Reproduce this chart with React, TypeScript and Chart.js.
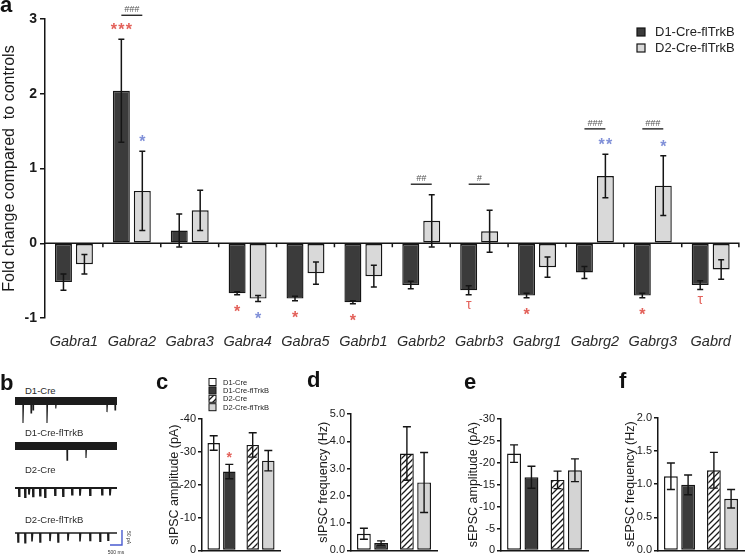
import React, { useEffect, useRef } from 'react';
import { Chart, registerables } from 'chart.js';

Chart.register(...registerables);

const FONT = '"Liberation Sans", Arial, Helvetica, sans-serif';
Chart.defaults.font.family = FONT;

// ---------- Panel a data ----------
const genes = ['Gabra1', 'Gabra2', 'Gabra3', 'Gabra4', 'Gabra5', 'Gabrb1', 'Gabrb2', 'Gabrb3', 'Gabrg1', 'Gabrg2', 'Gabrg3', 'Gabrd'];
const d1Fold = [-0.52, 2.04, 0.17, -0.67, -0.74, -0.79, -0.56, -0.63, -0.70, -0.39, -0.70, -0.56];
const d1FoldErr = [0.11, 0.69, 0.22, 0.02, 0.03, 0.02, 0.05, 0.06, 0.03, 0.08, 0.03, 0.06];
const d2Fold = [-0.28, 0.70, 0.44, -0.74, -0.40, -0.44, 0.30, 0.16, -0.32, 0.90, 0.77, -0.35];
const d2FoldErr = [0.13, 0.53, 0.27, 0.04, 0.15, 0.145, 0.35, 0.28, 0.135, 0.29, 0.40, 0.13];
const d1Sig = ['', '***', '', '*', '*', '*', '', 'τ', '*', '', '*', 'τ'];
const d2Sig = ['', '*', '', '*', '', '', '', '', '', '**', '*', ''];
const pairSig = ['', '###', '', '', '', '', '##', '#', '', '###', '###', ''];
const pairSigLevel = [0, 3.05, 0, 0, 0, 0, 0.79, 0.79, 0, 1.53, 1.53, 0];
const foldMin = -1;
const foldMax = 3;

// ---------- Panels c-f data ----------
const groupLabels = ['D1', 'D2'];
const seriesNames = ['D1-Cre', 'D1-Cre-flTrkB', 'D2-Cre', 'D2-Cre-flTrkB'];
const ipscAmp = [-32.7, -24.0, -32.1, -27.3];
const ipscAmpErr = [2.2, 2.2, 3.7, 3.1];
const ipscAmpSig = ['', '*', '', ''];
const ipscFreq = [0.61, 0.27, 3.55, 2.49];
const ipscFreqErr = [0.2, 0.08, 0.98, 1.1];
const epscAmp = [-22.1, -16.7, -16.1, -18.3];
const epscAmpErr = [2.0, 2.5, 2.0, 2.6];
const epscFreq = [1.12, 0.99, 1.21, 0.78];
const epscFreqErr = [0.2, 0.15, 0.27, 0.14];
const noSig = ['', '', '', ''];

// ---------- Panel b traces (ms, pA) ----------
const traceNames = ['D1-Cre', 'D1-Cre-flTrkB', 'D2-Cre', 'D2-Cre-flTrkB'];
const traceSpikeTimes = [
  [333, 667, 750, 1333, 1700, 3833, 4167],
  [2167, 2958],
  [167, 417, 583, 750, 1042, 1250, 1667, 2000, 2375, 2708, 3125, 3625, 3958],
  [125, 417, 708, 1042, 1458, 1792, 2208, 2708, 3125, 3542, 3875],
];
const traceSpikeAmps = [
  [73, 40, 30, 73, 25, 37, 30],
  [47, 40],
  [27, 30, 22, 28, 25, 30, 24, 27, 22, 26, 24, 22, 25],
  [30, 32, 28, 30, 27, 30, 26, 28, 25, 27, 24],
];
const traceDuration = 4250;
const scaleBarPA = 50;
const scaleBarMs = 500;

// ---------- styles ----------
const DARK = '#3b3b3b';
const LIGHT = '#d9d9d9';
const RED = '#e3615a';
const BLUE = '#8090d8';
const INK = '#151515';

// ---------- plugins ----------
const errorBarPlugin = {
  id: 'errorBars',
  afterDatasetsDraw(chart: any, _a: any, opts: any) {
    const ctx = chart.ctx;
    const ys = chart.scales.y;
    ctx.save();
    ctx.strokeStyle = INK;
    ctx.lineWidth = opts.lineWidth || 1.5;
    chart.data.datasets.forEach((ds: any, di: number) => {
      if (!ds.errors) return;
      const meta = chart.getDatasetMeta(di);
      meta.data.forEach((bar: any, i: number) => {
        const v = ds.data[i];
        if (v == null) return;
        const e = ds.errors[i] || 0;
        const y1 = ys.getPixelForValue(v - e);
        const y2 = ys.getPixelForValue(v + e);
        const hw = (opts.cap || 6) / 2;
        ctx.beginPath();
        ctx.moveTo(bar.x, y1);
        ctx.lineTo(bar.x, y2);
        ctx.moveTo(bar.x - hw, y1);
        ctx.lineTo(bar.x + hw, y1);
        ctx.moveTo(bar.x - hw, y2);
        ctx.lineTo(bar.x + hw, y2);
        ctx.stroke();
      });
    });
    ctx.restore();
  },
};

const sigPlugin = {
  id: 'sigMarks',
  afterDatasetsDraw(chart: any, _a: any, opts: any) {
    const ctx = chart.ctx;
    const ys = chart.scales.y;
    const zero = ys.getPixelForValue(0);
    ctx.save();
    ctx.textAlign = 'center';
    ctx.textBaseline = 'alphabetic';
    chart.data.datasets.forEach((ds: any, di: number) => {
      if (!ds.sig) return;
      const meta = chart.getDatasetMeta(di);
      meta.data.forEach((bar: any, i: number) => {
        const s = ds.sig[i];
        const v = ds.data[i];
        if (!s || v == null) return;
        const e = ds.errors ? ds.errors[i] : 0;
        const end = ys.getPixelForValue(v >= 0 ? v + e : v - e);
        const up = end < zero;
        ctx.fillStyle = ds.sigColor || RED;
        if (s === 'τ') {
          const size = opts.tauSize;
          const cy = up ? end - opts.tauGap : end + opts.tauGap;
          ctx.font = `${size}px ${FONT}`;
          ctx.fillText(s, bar.x, cy + 0.26 * size);
        } else {
          const size = opts.starSize;
          const cy = up ? end - opts.starGap : end + opts.starGap;
          ctx.font = `bold ${size}px ${FONT}`;
          const chars = s.split('');
          const x0 = bar.x - ((chars.length - 1) * opts.step) / 2;
          chars.forEach((c: string, k: number) => ctx.fillText(c, x0 + k * opts.step, cy + 0.57 * size));
        }
      });
    });
    ctx.restore();
  },
};

const pairPlugin = {
  id: 'pairSig',
  afterDatasetsDraw(chart: any) {
    const ctx = chart.ctx;
    const ys = chart.scales.y;
    const m0 = chart.getDatasetMeta(0);
    const m1 = chart.getDatasetMeta(1);
    ctx.save();
    ctx.strokeStyle = INK;
    ctx.lineWidth = 1.3;
    ctx.fillStyle = '#555';
    ctx.font = `italic 9px ${FONT}`;
    ctx.textAlign = 'center';
    ctx.textBaseline = 'alphabetic';
    pairSig.forEach((lab, i) => {
      if (!lab) return;
      const y = ys.getPixelForValue(pairSigLevel[i]);
      const xa = m0.data[i].x;
      const xb = m1.data[i].x;
      ctx.beginPath();
      ctx.moveTo(xa, y);
      ctx.lineTo(xb, y);
      ctx.stroke();
      ctx.fillText(lab, (xa + xb) / 2, y - 3);
    });
    ctx.restore();
  },
};

const zeroAxisPlugin = {
  id: 'zeroAxis',
  afterDatasetsDraw(chart: any, _a: any, opts: any) {
    const ctx = chart.ctx;
    const xs = chart.scales.x;
    const ys = chart.scales.y;
    const y0 = ys.getPixelForValue(0);
    const { left, right } = chart.chartArea;
    const n = chart.data.labels.length;
    ctx.save();
    ctx.strokeStyle = INK;
    ctx.lineWidth = 1.5;
    ctx.beginPath();
    ctx.moveTo(left, y0);
    ctx.lineTo(right, y0);
    for (let i = 1; i <= n; i++) {
      const bx = i < n ? (xs.getPixelForValue(i - 1) + xs.getPixelForValue(i)) / 2 : right - 0.75;
      ctx.moveTo(bx, y0);
      ctx.lineTo(bx, y0 + opts.tick);
    }
    ctx.stroke();
    ctx.restore();
  },
};

const boxLegendPlugin = {
  id: 'boxLegend',
  afterDraw(chart: any, _a: any, opts: any) {
    const ctx = chart.ctx;
    ctx.save();
    chart.data.datasets.forEach((ds: any, i: number) => {
      const cy = opts.y + i * opts.rowH;
      const b = opts.box;
      ctx.fillStyle = ds.backgroundColor;
      ctx.fillRect(opts.x, cy - b / 2, b, b);
      ctx.strokeStyle = INK;
      ctx.lineWidth = opts.lineWidth;
      ctx.strokeRect(opts.x, cy - b / 2, b, b);
      ctx.fillStyle = '#222';
      ctx.font = `${opts.size}px ${FONT}`;
      ctx.textAlign = 'left';
      ctx.textBaseline = 'middle';
      ctx.fillText(ds.label, opts.x + b + opts.gap, cy + 0.5);
    });
    ctx.restore();
  },
};

const scaleBarPlugin = {
  id: 'scaleBarText',
  afterDraw(chart: any, _a: any, opts: any) {
    if (!opts.show) return;
    const ctx = chart.ctx;
    const xs = chart.scales.x;
    const ys = chart.scales.y;
    const xv = xs.getPixelForValue(opts.t);
    const yb = ys.getPixelForValue(opts.base);
    const yt = ys.getPixelForValue(opts.base + scaleBarPA);
    ctx.save();
    ctx.fillStyle = '#333';
    ctx.font = `5px ${FONT}`;
    ctx.textAlign = 'center';
    ctx.textBaseline = 'middle';
    ctx.fillText(`${scaleBarMs} ms`, xs.getPixelForValue(opts.t - scaleBarMs / 2), yb + 8);
    ctx.translate(xv + 6, (yb + yt) / 2);
    ctx.rotate(Math.PI / 2);
    ctx.fillText(`${scaleBarPA} pA`, 0, 0);
    ctx.restore();
  },
};

function makeHatch(): CanvasPattern | string {
  const c = document.createElement('canvas');
  c.width = 6;
  c.height = 6;
  const g = c.getContext('2d');
  if (!g) return '#fff';
  g.fillStyle = '#ffffff';
  g.fillRect(0, 0, 6, 6);
  g.strokeStyle = '#1a1a1a';
  g.lineWidth = 1.3;
  g.beginPath();
  g.moveTo(-1, 7);
  g.lineTo(7, -1);
  g.moveTo(-1, 1);
  g.lineTo(1, -1);
  g.moveTo(5, 7);
  g.lineTo(7, 5);
  g.stroke();
  return g.createPattern(c, 'repeat') || '#fff';
}

// ---------- chart builders ----------
function buildFold(canvas: HTMLCanvasElement) {
  return new Chart(canvas, {
    type: 'bar',
    data: {
      labels: genes,
      datasets: [
        { label: 'D1-Cre-flTrkB', data: d1Fold, errors: d1FoldErr, sig: d1Sig, sigColor: RED, backgroundColor: DARK, borderColor: INK, borderWidth: 1.4, borderSkipped: false, categoryPercentage: 0.724, barPercentage: 0.81 } as any,
        { label: 'D2-Cre-flTrkB', data: d2Fold, errors: d2FoldErr, sig: d2Sig, sigColor: BLUE, backgroundColor: LIGHT, borderColor: INK, borderWidth: 1.4, borderSkipped: false, categoryPercentage: 0.724, barPercentage: 0.81 } as any,
      ],
    },
    options: {
      responsive: false,
      animation: false,
      layout: { padding: { top: 19, right: 4, left: 0, bottom: 0 } },
      scales: {
        x: {
          grid: { display: false, drawTicks: false },
          border: { display: false },
          ticks: { font: { family: FONT, size: 14.5, style: 'italic' }, color: '#2a2a2a', padding: 15, maxRotation: 0, autoSkip: false },
          afterFit: (s: any) => { s.height = 42; },
        },
        y: {
          min: foldMin,
          max: foldMax,
          ticks: { stepSize: 1, font: { family: FONT, size: 14, weight: 'bold' }, color: '#1a1a1a', padding: 3 },
          grid: { drawOnChartArea: false, tickLength: 5, color: INK, lineWidth: 1.5 },
          border: { color: INK, width: 1.5 },
          title: { display: true, text: 'Fold change compared  to controls', font: { family: FONT, size: 16 }, color: '#1a1a1a', padding: { top: 0, bottom: 0 } },
          afterFit: (s: any) => { s.width = 45; },
        },
      },
      plugins: {
        legend: { display: false },
        tooltip: { enabled: false },
        errorBars: { cap: 6, lineWidth: 1.5 },
        sigMarks: { starSize: 16, starGap: 13, tauSize: 14, tauGap: 11, step: 7.5 },
        zeroAxis: { tick: 4 },
        boxLegend: { x: 637, y: 32, rowH: 16, box: 8, gap: 10, size: 13, lineWidth: 1.2 },
      } as any,
    },
    plugins: [zeroAxisPlugin, errorBarPlugin, sigPlugin, pairPlugin, boxLegendPlugin],
  } as any);
}

type SmallCfg = {
  values: number[];
  errors: number[];
  sig: string[];
  min: number;
  max: number;
  step: number;
  reverse: boolean;
  decimals: number;
  title: string;
  padTop: number;
  padRight: number;
  legend: boolean;
};

function buildSmall(canvas: HTMLCanvasElement, cfg: SmallCfg) {
  const hatch = makeHatch();
  const fills: any[] = ['#ffffff', DARK, hatch, '#d4d4d4'];
  const datasets = seriesNames.map((name, k) => {
    const first = k < 2;
    return {
      label: name,
      data: first ? [cfg.values[k], null] : [null, cfg.values[k]],
      errors: first ? [cfg.errors[k], 0] : [0, cfg.errors[k]],
      sig: first ? [cfg.sig[k], ''] : ['', cfg.sig[k]],
      sigColor: RED,
      backgroundColor: fills[k],
      borderColor: INK,
      borderWidth: 1.4,
      borderSkipped: false,
      skipNull: true,
      categoryPercentage: 0.8,
      barPercentage: 0.8,
    } as any;
  });
  return new Chart(canvas, {
    type: 'bar',
    data: { labels: groupLabels, datasets },
    options: {
      responsive: false,
      animation: false,
      layout: { padding: { top: cfg.padTop, right: cfg.padRight, left: 0, bottom: 0 } },
      scales: {
        x: {
          ticks: { display: false },
          grid: { display: false, drawTicks: false },
          border: { color: INK, width: 1.5 },
          afterFit: (s: any) => { s.height = 6; },
        },
        y: {
          min: cfg.min,
          max: cfg.max,
          reverse: cfg.reverse,
          ticks: {
            stepSize: cfg.step,
            font: { family: FONT, size: 11 },
            color: '#1a1a1a',
            padding: 2,
            callback: (v: any) => (cfg.decimals ? Number(v).toFixed(cfg.decimals) : String(v)),
          },
          grid: { drawOnChartArea: false, tickLength: 4, color: INK, lineWidth: 1.5 },
          border: { color: INK, width: 1.5 },
          title: { display: true, text: cfg.title, font: { family: FONT, size: 12.5 }, color: '#1a1a1a', padding: { top: 0, bottom: 0 } },
          afterFit: (s: any) => { s.width = 35; },
        },
      },
      plugins: {
        legend: { display: false },
        tooltip: { enabled: false },
        errorBars: { cap: 8, lineWidth: 1.4 },
        sigMarks: { starSize: 14, starGap: 10, tauSize: 11, tauGap: 9, step: 7 },
        boxLegend: cfg.legend ? { x: 42, y: 12, rowH: 8.4, box: 7, gap: 7, size: 7.5, lineWidth: 1 } : { x: -100, y: -100, rowH: 0, box: 0, gap: 0, size: 1, lineWidth: 0 },
      } as any,
    },
    plugins: cfg.legend ? [errorBarPlugin, sigPlugin, boxLegendPlugin] : [errorBarPlugin, sigPlugin],
  } as any);
}

const traceBand = [8, 8, 0, 0];
const traceLineWidth = [1.1, 1.1, 1.8, 1.6];
const scaleBarT = 4458;
const scaleBarBase = -40;

function buildTrace(canvas: HTMLCanvasElement, k: number) {
  const times = traceSpikeTimes[k];
  const amps = traceSpikeAmps[k];
  const pts: { x: number; y: number }[] = [{ x: 0, y: 0 }];
  times.forEach((t, i) => {
    pts.push({ x: t - 6, y: 0 }, { x: t, y: -amps[i] }, { x: t + 25, y: 0 });
  });
  pts.push({ x: traceDuration, y: 0 });
  const datasets: any[] = [];
  if (traceBand[k] > 0) {
    datasets.push({ data: [{ x: 0, y: 0 }, { x: traceDuration, y: 0 }], borderColor: '#1c1c1c', borderWidth: traceBand[k], pointRadius: 0 });
  }
  datasets.push({ data: pts, borderColor: '#1c1c1c', borderWidth: traceLineWidth[k], pointRadius: 0, tension: 0 });
  if (k === 3) {
    datasets.push({
      data: [
        { x: scaleBarT, y: scaleBarBase + scaleBarPA },
        { x: scaleBarT, y: scaleBarBase },
        { x: scaleBarT - scaleBarMs, y: scaleBarBase },
      ],
      borderColor: '#4a5bd0',
      borderWidth: 1.4,
      pointRadius: 0,
    });
  }
  return new Chart(canvas, {
    type: 'line',
    data: { datasets },
    options: {
      responsive: false,
      animation: false,
      layout: { padding: 0 },
      scales: {
        x: { type: 'linear', display: false, min: 0, max: 5000 },
        y: { display: false, min: -100, max: 20 },
      },
      plugins: {
        legend: { display: false },
        tooltip: { enabled: false },
        scaleBarText: { show: k === 3, t: scaleBarT, base: scaleBarBase },
      } as any,
    },
    plugins: [scaleBarPlugin],
  } as any);
}

// ---------- components ----------
function ChartCanvas(props: { left: number; top: number; width: number; height: number; build: (c: HTMLCanvasElement) => Chart }) {
  const ref = useRef<HTMLCanvasElement>(null);
  useEffect(() => {
    if (!ref.current) return;
    const ch = props.build(ref.current);
    return () => ch.destroy();
  }, []);
  return (
    <canvas
      ref={ref}
      width={props.width}
      height={props.height}
      style={{ position: 'absolute', left: props.left, top: props.top, width: props.width, height: props.height }}
    />
  );
}

function Letter(props: { ch: string; left: number; baseline: number }) {
  return (
    <div style={{ position: 'absolute', left: props.left, top: props.baseline - 18.6, font: `bold 22px ${FONT}`, lineHeight: '22px', color: '#111' }}>
      {props.ch}
    </div>
  );
}

const smallTop = 370;
const smallBottom = 559;

export default function App() {
  const traceTops = [395, 440, 482, 527];
  const traceLabelTops = [386, 428, 465, 515];
  const smallPanels: { axisX: number; right: number; topPx: number; cfg: Omit<SmallCfg, 'padTop' | 'padRight' | 'legend'>; legend: boolean }[] = [
    { axisX: 202, right: 280, topPx: 419, legend: true, cfg: { values: ipscAmp, errors: ipscAmpErr, sig: ipscAmpSig, min: -40, max: 0, step: 10, reverse: true, decimals: 0, title: 'sIPSC amplitude (pA)' } },
    { axisX: 351, right: 437, topPx: 414, legend: false, cfg: { values: ipscFreq, errors: ipscFreqErr, sig: noSig, min: 0, max: 5, step: 1, reverse: false, decimals: 1, title: 'sIPSC frequency (Hz)' } },
    { axisX: 501, right: 588, topPx: 419, legend: false, cfg: { values: epscAmp, errors: epscAmpErr, sig: noSig, min: -30, max: 0, step: 5, reverse: true, decimals: 0, title: 'sEPSC amplitude (pA)' } },
    { axisX: 658, right: 744, topPx: 418, legend: false, cfg: { values: epscFreq, errors: epscFreqErr, sig: noSig, min: 0, max: 2, step: 0.5, reverse: false, decimals: 1, title: 'sEPSC frequency (Hz)' } },
  ];
  return (
    <div style={{ position: 'absolute', left: 0, top: 0, width: 746, height: 559, background: '#fff', overflow: 'hidden' }}>
      <ChartCanvas left={0} top={0} width={746} height={360} build={buildFold} />
      {traceNames.map((n, k) => (
        <React.Fragment key={n}>
          <div style={{ position: 'absolute', left: 25, top: traceLabelTops[k], font: `9.5px ${FONT}`, lineHeight: '9.5px', color: '#2a2a2a', whiteSpace: 'nowrap' }}>{n}</div>
          <ChartCanvas left={15} top={traceTops[k]} width={120} height={36} build={(c) => buildTrace(c, k)} />
        </React.Fragment>
      ))}
      {smallPanels.map((p, i) => {
        const left = p.axisX - 35;
        const width = p.right + 2 - left;
        return (
          <ChartCanvas
            key={i}
            left={left}
            top={smallTop}
            width={width}
            height={smallBottom - smallTop}
            build={(c) => buildSmall(c, { ...p.cfg, padTop: p.topPx - smallTop, padRight: 2, legend: p.legend })}
          />
        );
      })}
      <Letter ch="a" left={0} baseline={13} />
      <Letter ch="b" left={0} baseline={391} />
      <Letter ch="c" left={156} baseline={390} />
      <Letter ch="d" left={307} baseline={388} />
      <Letter ch="e" left={464} baseline={390} />
      <Letter ch="f" left={619} baseline={389} />
    </div>
  );
}
